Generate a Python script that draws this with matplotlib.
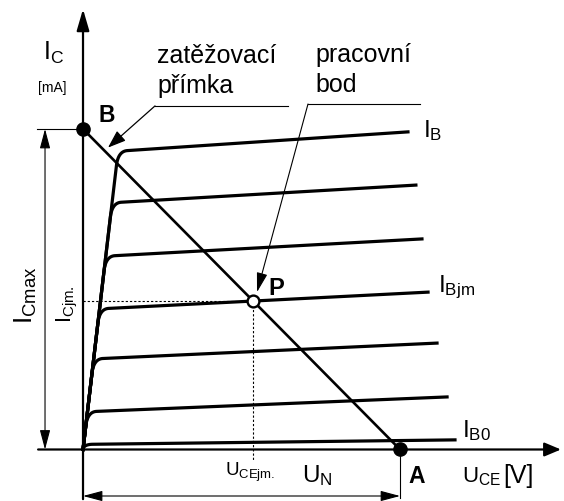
import numpy as np
import matplotlib.pyplot as plt

plt.rcParams['font.family'] = ['Liberation Sans', 'DejaVu Sans']
plt.rcParams['mathtext.fontset'] = 'custom'
plt.rcParams['mathtext.rm'] = 'Liberation Sans'
plt.rcParams['mathtext.it'] = 'Liberation Sans:italic'
plt.rcParams['mathtext.bf'] = 'Liberation Sans:bold'

# --- data (schematic units: U_CE in V, I_C in mA) ---
U_N = 12.0        # point A, load line on the U axis
I_Cmax = 10.0     # point B, load line on the I axis
g_sat = 7.0       # slope of the saturation edge, mA/V

curve_labels = [r'$\mathrm{I_B}$', '', '', r'$\mathrm{I_{Bjm}}$', '', '', r'$\mathrm{I_{B0}}$']
I_end = [9.91, 8.25, 6.57, 4.91, 3.32, 1.64, 0.30]       # mA at the right end
U_end = [12.30, 12.60, 12.83, 13.06, 13.40, 13.78, 14.08]  # V, right end
slope = [0.055, 0.048, 0.045, 0.042, 0.038, 0.034, 0.010]  # mA/V
jm = 3   # index of I_Bjm curve

# knee rounding
r_mA = 0.45
r_V = 0.35

fig = plt.figure(figsize=(5.64, 5.02), dpi=100)
ax = fig.add_axes([0, 0, 1, 1])
ax.set_xlim(-3.142, 18.206)
ax.set_ylim(-1.607, 14.056)
ax.axis('off')

K = 'black'


def arrow(tail, tip, lw, hl, hw, style='-|>'):
    ax.annotate('', xy=tip, xytext=tail,
                arrowprops=dict(arrowstyle=f'{style},head_length={hl},head_width={hw}',
                                lw=lw, color=K, shrinkA=0, shrinkB=0,
                                mutation_scale=10))


# axes
arrow((0, -1.55), (0, 13.74), 1.6, 1.3, 0.38)
arrow((-1.70, 0), (18.09, 0), 1.6, 1.0, 0.42)

# output characteristics
t = np.linspace(0, 1, 40)
for ie, ue, s in zip(I_end, U_end, slope):
    c = ie - s * ue
    uc = c / (g_sat - s)
    ic = g_sat * uc
    i0 = max(ic - r_mA, 0)
    u0 = i0 / g_sat
    u2 = uc + r_V
    i2 = c + s * u2
    bu = (1 - t) ** 2 * u0 + 2 * (1 - t) * t * uc + t ** 2 * u2
    bi = (1 - t) ** 2 * i0 + 2 * (1 - t) * t * ic + t ** 2 * i2
    uu = np.concatenate([[0, u0], bu, [ue]])
    ii = np.concatenate([[0, i0], bi, [ie]])
    ax.plot(uu, ii, color=K, lw=2.3, solid_joinstyle='round')

# labels of curves
ax.text(12.87, 9.78, curve_labels[0], fontsize=17.5, va='baseline')
ax.text(13.44, 4.945, curve_labels[jm], fontsize=17.5, va='baseline')
ax.text(14.35, 0.42, curve_labels[6], fontsize=17.5, va='baseline')

# load line
ax.plot([0, U_N], [I_Cmax, 0], color=K, lw=1.9)

# working point P: load line x I_Bjm curve
c_jm = I_end[jm] - slope[jm] * U_end[jm]
U_P = (I_Cmax - c_jm) / (slope[jm] + I_Cmax / U_N)
I_P = c_jm + slope[jm] * U_P

ax.plot([0, U_P], [I_P, I_P], color=K, lw=0.8, ls=(0, (2, 1.8)))
ax.plot([U_P, U_P], [I_P, -0.33], color=K, lw=0.8, ls=(0, (2, 1.8)))

ax.plot([0], [I_Cmax], 'o', ms=9.5, color=K, zorder=5)
ax.plot([U_N], [0], 'o', ms=9.5, color=K, zorder=5)
ax.plot([U_P], [I_P], 'o', ms=8.5, mfc='white', mec=K, mew=1.7, zorder=5)

# dimension I_Cmax
ax.plot([-1.741, 0], [I_Cmax, I_Cmax], color=K, lw=0.8)
arrow((-1.438, 0), (-1.438, I_Cmax), 0.8, 1.2, 0.32, style='<|-|>')

# dimension U_N
ax.plot([U_N, U_N], [0, -1.513], color=K, lw=0.8)
arrow((0, -1.451), (U_N, -1.451), 0.8, 1.2, 0.32, style='<|-|>')

# leaders
ax.plot([2.725, 7.759], [10.72, 10.72], color=K, lw=0.8)
arrow((2.725, 10.72), (0.946, 9.42), 0.9, 1.1, 0.4)
ax.plot([8.516, 12.755], [10.78, 10.78], color=K, lw=0.8)
arrow((8.516, 10.78), (6.586, 4.91), 0.8, 1.2, 0.33)

# texts
ax.text(-1.514, 12.18, r'$\mathrm{I_C}$', fontsize=18, va='baseline')
ax.text(-1.173, 11.19, '[mA]', fontsize=10, va='baseline', ha='center')
ax.text(0.889, 10.25, 'B', fontsize=16.5, weight='bold', va='baseline', ha='center')
ax.text(2.801, 12.09, 'zatěžovací', fontsize=18, va='baseline')
ax.text(2.801, 11.15, 'přímka', fontsize=18, va='baseline')
ax.text(8.781, 12.12, 'pracovní', fontsize=18, va='baseline')
ax.text(8.781, 11.19, 'bod', fontsize=18, va='baseline')
ax.text(7.0, 4.85, 'P', fontsize=17, weight='bold', va='baseline')
ax.text(12.32, -1.01, 'A', fontsize=16.5, weight='bold', va='baseline')
ax.text(14.35, -1.01, r'$\mathrm{U_{CE}}$', fontsize=16, va='baseline')
ax.text(15.89, -1.01, '[V]', fontsize=18, va='baseline')
ax.text(8.29, -0.98, r'$\mathrm{U_N}$', fontsize=17.5, va='baseline')
ax.text(5.375, -0.80, r'$\mathrm{U_{CEjm.}}$', fontsize=13.5, va='baseline')
ax.text(-2.157, 4.85, r'$\mathrm{I_{Cmax}}$', fontsize=19, rotation=90,
        ha='center', va='center')
ax.text(-0.587, 4.57, r'$\mathrm{I_{Cjm.}}$', fontsize=15.5, rotation=90,
        ha='center', va='center')

fig.savefig('out.png', dpi=100)
